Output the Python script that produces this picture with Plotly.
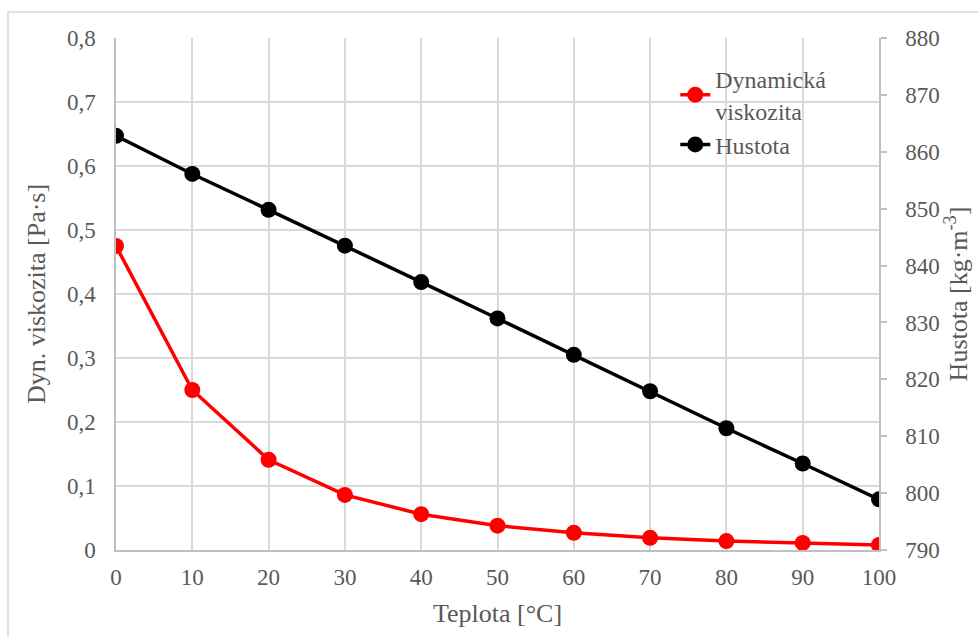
import plotly.graph_objects as go

# Temperature [°C]
teplota = [0, 10, 20, 30, 40, 50, 60, 70, 80, 90, 100]
# Dynamic viscosity [Pa·s]
viskozita = [0.475, 0.25, 0.141, 0.086, 0.056, 0.038, 0.027, 0.019, 0.014, 0.011, 0.008]
# Density [kg·m^-3]
hustota = [862.8, 856.1, 849.8, 843.5, 837.1, 830.7, 824.3, 817.9, 811.4, 805.2, 798.9]

FONT = "Liberation Serif"
TXT = "#595959"
GRID = "#d9d9d9"
AXIS = "#bfbfbf"

fig = go.Figure()
fig.add_trace(go.Scatter(
    x=teplota, y=viskozita, name="Dynamická<br>viskozita",
    mode="lines+markers",
    line=dict(color="#ff0000", width=3.5),
    marker=dict(color="#ff0000", size=16),
    yaxis="y",
))
fig.add_trace(go.Scatter(
    x=teplota, y=hustota, name="Hustota",
    mode="lines+markers",
    line=dict(color="#000000", width=3.5),
    marker=dict(color="#000000", size=16),
    yaxis="y2",
))

fig.update_layout(
    width=978, height=637,
    margin=dict(l=116, r=99, t=38, b=87),
    paper_bgcolor="white", plot_bgcolor="white",
    separators=", ",
    font=dict(family=FONT, size=23, color=TXT),
    showlegend=True,
    legend=dict(x=0.733, y=0.963, xanchor="left", yanchor="top",
                bgcolor="rgba(0,0,0,0)", font=dict(family=FONT, size=24, color=TXT),
                tracegroupgap=0),
    xaxis=dict(
        range=[0, 100], dtick=10, tick0=0, automargin=False,
        showgrid=True, gridcolor=GRID, gridwidth=1.5,
        showline=True, linecolor=AXIS, linewidth=1.5,
        ticks="", zeroline=False, ticklabelstandoff=6,
        title=dict(text="Teplota [°C]", font=dict(family=FONT, size=26, color=TXT), standoff=14),
        tickfont=dict(family=FONT, size=23, color=TXT),
    ),
    yaxis=dict(
        range=[0, 0.8], dtick=0.1, tick0=0, automargin=False,
        showgrid=True, gridcolor=GRID, gridwidth=1.5,
        showline=True, linecolor=AXIS, linewidth=1.5,
        ticks="", zeroline=False, ticklabelstandoff=14,
        title=dict(text="Dyn. viskozita [Pa·s]", font=dict(family=FONT, size=26, color=TXT), standoff=14),
        tickfont=dict(family=FONT, size=23, color=TXT),
    ),
    yaxis2=dict(
        range=[790, 880], dtick=10, tick0=790, automargin=False,
        overlaying="y", side="right",
        showgrid=False,
        showline=True, linecolor=AXIS, linewidth=1.5,
        ticks="outside", ticklen=6, tickcolor=AXIS, tickwidth=1.5,
        zeroline=False, ticklabelstandoff=14,
        title=dict(text="Hustota [kg·m<sup>-3</sup>]", font=dict(family=FONT, size=26, color=TXT), standoff=9),
        tickfont=dict(family=FONT, size=23, color=TXT),
    ),
    shapes=[dict(
        type="rect", xref="paper", yref="paper",
        x0=-0.1415, x1=1.2, y0=-0.3, y1=1.0508,
        line=dict(color=GRID, width=1.5), fillcolor="rgba(0,0,0,0)",
        layer="below",
    )],
)

fig.write_html("out.html")
